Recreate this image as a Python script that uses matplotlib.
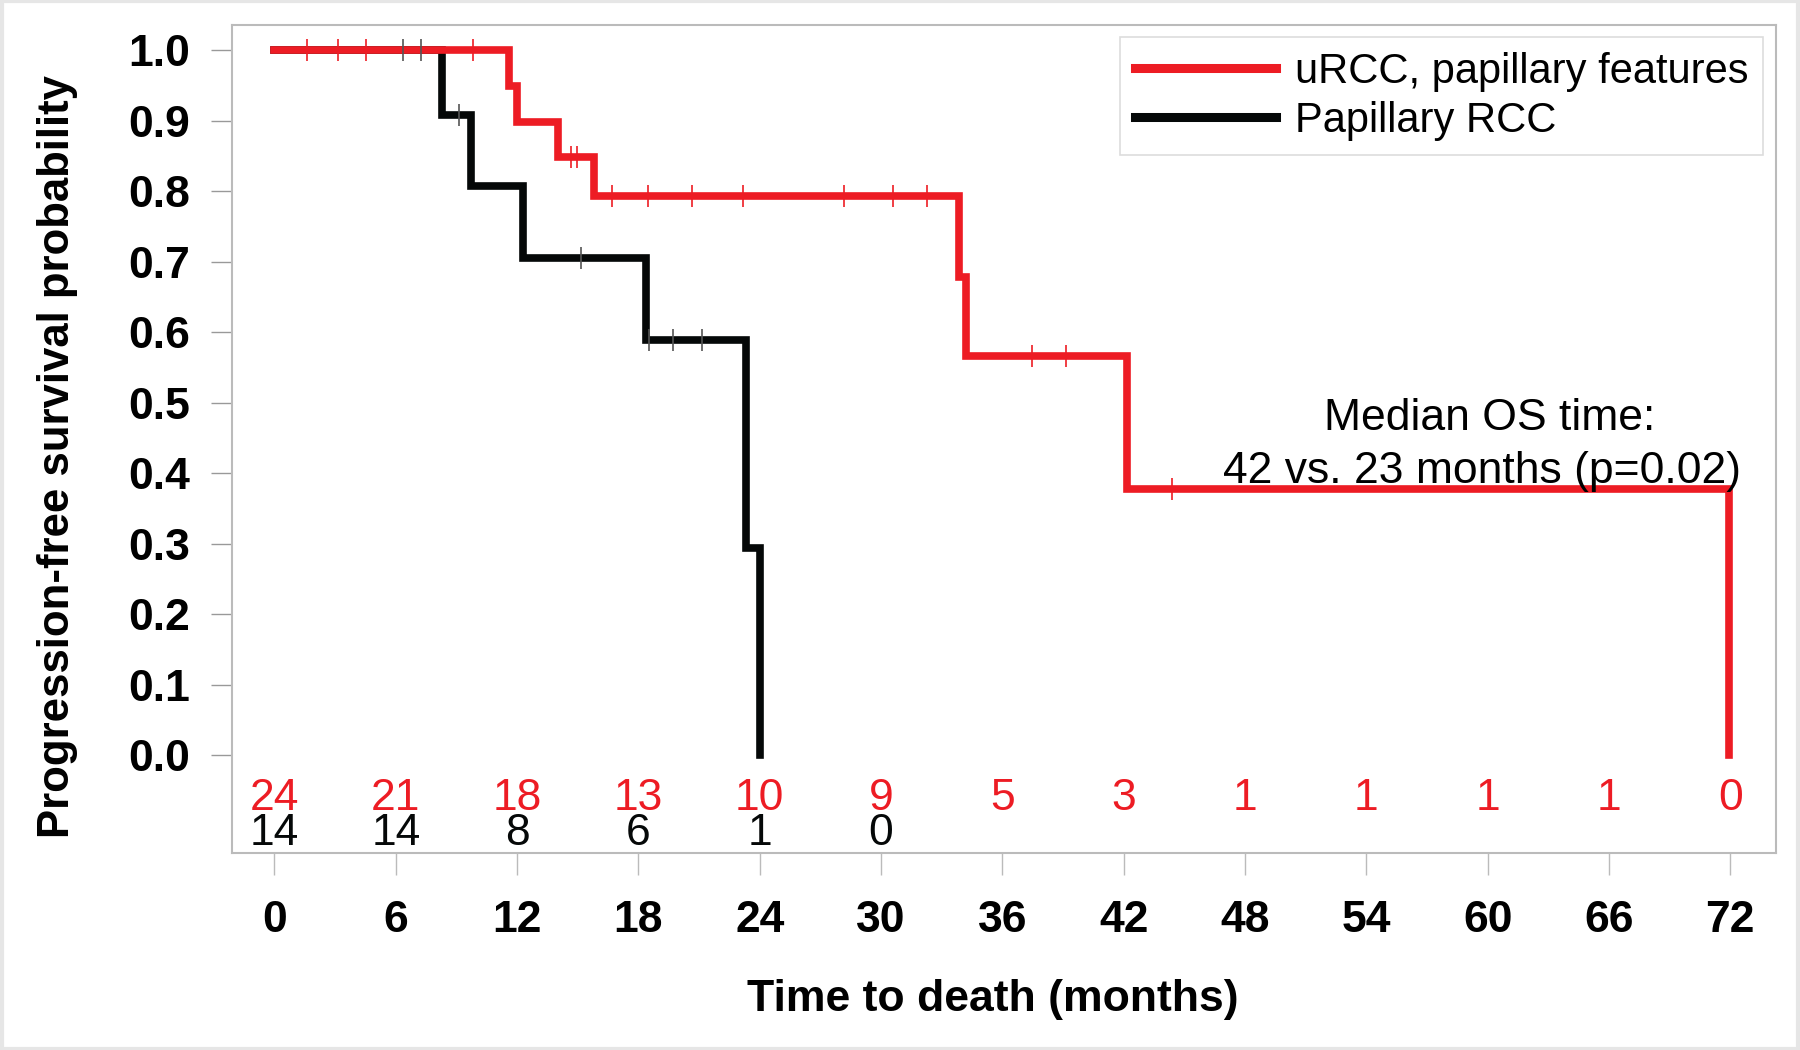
import numpy as np
import matplotlib
matplotlib.use("Agg")
import matplotlib.pyplot as plt
from matplotlib.lines import Line2D
from matplotlib.patches import Rectangle

plt.rcParams['font.family'] = ['Liberation Sans', 'DejaVu Sans']

# ---- data ----
red_label = "uRCC, papillary features"
black_label = "Papillary RCC"
red_times = [0, 11.62, 11.99, 14.02, 15.82, 33.87, 34.2, 42.15, 71.95]
red_surv = [1.0, 0.950, 0.899, 0.849, 0.793, 0.679, 0.566, 0.378, 0.0]
red_cens = [1.6, 3.16, 4.52, 9.83, 14.65, 14.97, 16.69, 18.45, 20.65, 23.15,
            28.19, 30.61, 32.26, 37.47, 39.15, 44.4]
black_times = [0, 8.28, 9.71, 12.27, 18.38, 23.34, 24.02]
black_surv = [1.0, 0.909, 0.808, 0.706, 0.589, 0.294, 0.0]
black_cens = [6.35, 7.24, 9.14, 15.18, 18.5, 19.71, 21.15]

risk_times = [0, 6, 12, 18, 24, 30, 36, 42, 48, 54, 60, 66, 72]
red_risk = [24, 21, 18, 13, 10, 9, 5, 3, 1, 1, 1, 1, 0]
black_risk = [14, 14, 8, 6, 1, 0]

yticks = [0.0, 0.1, 0.2, 0.3, 0.4, 0.5, 0.6, 0.7, 0.8, 0.9, 1.0]
annot_lines = ["Median OS time:", "42 vs. 23 months (p=0.02)"]

RED = "#ED1C24"
BLACK = "#050808"
FS = 32

fig = plt.figure(figsize=(18, 10.5), dpi=100)
ax = fig.add_axes([232/1800, 1-853/1050, (1776-232)/1800, (853-25)/1050])

def surv_at(times, surv, t):
    i = np.searchsorted(times, t, side='right') - 1
    return surv[i]

ax.step(black_times, black_surv, where='post', color=BLACK, lw=5.5,
        solid_joinstyle='miter', zorder=3)
ax.step(red_times, red_surv, where='post', color=RED, lw=5.5,
        solid_joinstyle='miter', zorder=4)
ax.plot(red_cens, [surv_at(red_times, red_surv, t) for t in red_cens], ls='none',
        marker='|', ms=16, mew=1.2, color=RED, zorder=5)
ax.plot(black_cens, [surv_at(black_times, black_surv, t) for t in black_cens], ls='none',
        marker='|', ms=16, mew=1.2, color='#555555', zorder=5)

ax.set_xlim(-2.10, 74.26)
ax.set_ylim(-0.1386, 1.036)
ax.set_xticks(risk_times)
ax.set_xticklabels([str(t) for t in risk_times], fontsize=FS, fontweight='bold')
ax.set_yticks(yticks)
ax.set_yticklabels([f"{v:.1f}" for v in yticks], fontsize=FS, fontweight='bold')
ax.tick_params(axis='x', length=15.5, width=1, color='#bbbbbb', pad=18)
ax.tick_params(axis='y', length=15, width=1, color='#999999', pad=15)
for s in ax.spines.values():
    s.set_color('#bbbbbb')
    s.set_linewidth(1.5)

for t, n in zip(risk_times, red_risk):
    ax.text(t, -0.0614, str(n), color=RED, fontsize=FS, ha='center', va='center')
for t, n in zip(risk_times, black_risk):
    ax.text(t, -0.111, str(n), color=BLACK, fontsize=FS, ha='center', va='center')

handles = [Line2D([], [], color=RED, lw=6.5), Line2D([], [], color=BLACK, lw=6.5)]
leg = ax.legend(handles, [red_label, black_label], loc='upper right',
                bbox_to_anchor=(0.9916, 0.9855), fontsize=30, frameon=True,
                fancybox=False, edgecolor='#dddddd', framealpha=1,
                handlelength=3.4, handletextpad=0.45, labelspacing=0.22,
                borderpad=0.35, borderaxespad=0)
leg.get_frame().set_linewidth(1.2)

fig.text(1490/1800, 1-418/1050, annot_lines[0], fontsize=FS, ha='center', va='center')
fig.text(1482/1800, 1-472/1050, annot_lines[1], fontsize=FS, ha='center', va='center')

fig.text(993/1800, 1-999/1050, "Time to death (months)", fontsize=FS,
         fontweight='bold', ha='center', va='center')
fig.text(58/1800, 1-456/1050, "Progression-free survival probability", fontsize=31.5,
         fontweight='bold', ha='center', va='center', rotation=90)

fig.patches.append(Rectangle((0.001, 0.001), 0.998, 0.998, transform=fig.transFigure,
                             fill=False, edgecolor='#e6e6e6', lw=3))

fig.savefig("out.png", dpi=100)
